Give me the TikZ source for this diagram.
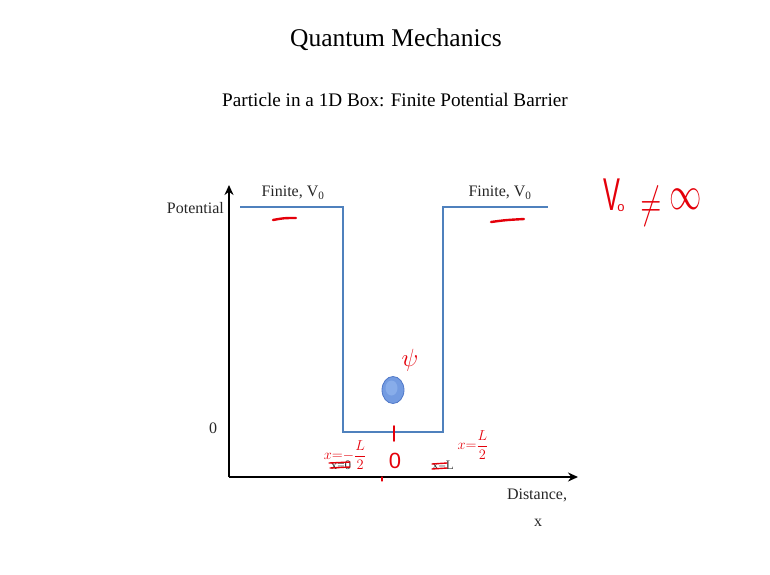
\documentclass[tikz,border=0pt]{standalone}
\usepackage{fontspec}
\setmainfont{Liberation Serif}
\setsansfont{Liberation Sans}
\usetikzlibrary{arrows.meta,calc}
\definecolor{wellblue}{RGB}{79,129,189}
\definecolor{ink}{RGB}{228,0,10}
\definecolor{ballin}{RGB}{150,185,240}
\definecolor{ballfill}{RGB}{115,155,225}
\definecolor{balledge}{RGB}{80,120,200}
\tikzset{
  axisline/.style={line width=2pt, -{Stealth[length=10pt,width=9pt]}},
  well/.style={draw=wellblue, line width=2pt},
  lbl/.style={font=\fontsize{16}{18}\selectfont, text=black!85, inner sep=0pt},
  smalllbl/.style={font=\fontsize{13}{15}\selectfont, text=black!80, inner sep=0pt},
  hand/.style={text=ink, inner sep=0pt},
  handline/.style={draw=ink, line width=2pt, line cap=round},
}
\begin{document}
\begin{tikzpicture}[x=1pt,y=-1pt]
\useasboundingbox (0,0) rectangle (770,574);
% titles
\node[inner sep=0pt, font=\fontsize{25.5}{30}\selectfont] (title) at (396,40) {Quantum Mechanics};
\node[inner sep=0pt, font=\fontsize{19.2}{22}\selectfont] (subtitle) at (395,100) {Particle in a 1D Box: Finite Potential Barrier};
% axes
\coordinate (O) at (229,477);
\coordinate (ytip) at (229,185);
\coordinate (xtip) at (578,477);
\draw[axisline] (O) -- (ytip);
\draw[axisline] (O) -- (xtip);
% well
\coordinate (a) at (240,207);
\coordinate (b) at (343,207);
\coordinate (c) at (343,432);
\coordinate (d) at (443,432);
\coordinate (e) at (443,207);
\coordinate (f) at (548,207);
\draw[well] (a) -- (b) -- (c) -- (d) -- (e) -- (f);
% ball
\coordinate (ball) at (393,390);
\fill[ballfill, draw=balledge, line width=0.8pt] (ball) ellipse (11 and 13.5);
\fill[ballin, opacity=0.6] ($(ball)+(-1.5,-2)$) ellipse (6 and 7.5);
% labels
\node[lbl, anchor=east] (pot) at (224,208) {Potential};
\node[lbl] (zero) at (213,428) {0};
\node[lbl] (finL) at (293,193) {Finite, V\textsubscript{0}};
\node[lbl] (finR) at (500,193) {Finite, V\textsubscript{0}};
\node[smalllbl] (x0) at (341,465) {x=0};
\node[smalllbl] (xL) at (443,465) {x=L};
\node[lbl] (dist) at (537,495) {Distance,};
\node[lbl] (xlab) at (538,523) {x};
% handwritten annotations
\draw[handline, line width=2.4pt] (273,220) .. controls (284,218) .. (296,218);
\draw[handline, line width=2.4pt] (491,222) .. controls (506,220) .. (524,219);
\node[hand, font=\fontsize{46}{48}\selectfont\sffamily] (vv) at (612,195) {\scalebox{0.55}[1]{V}};
\node[hand, font=\fontsize{13}{14}\selectfont\sffamily] (vsub) at (621,208) {o};
\node[hand, font=\fontsize{24.88}{26}\selectfont] (neq) at (651,206) {\scalebox{1.15}[1.8]{$\neq$}};
\node[hand, font=\fontsize{24.88}{26}\selectfont] (inf) at (686,199) {\scalebox{1.3}[1.9]{$\infty$}};
\node[hand, font=\fontsize{30}{32}\selectfont] (psi) at (410,360) {$\psi$};
\draw[handline, line width=1.8pt] (394,426) -- (394,441);
\node[hand, font=\fontsize{22}{24}\selectfont\sffamily] (o) at (395,461) {0};
\node[hand, font=\fontsize{15}{17}\selectfont] (xl) at (345,455) {$\displaystyle x{=}{-}\frac{L}{2}$};
\node[hand, font=\fontsize{15}{17}\selectfont] (xr) at (473,445) {$\displaystyle x{=}\frac{L}{2}$};
\draw[handline, line width=1.4pt] (329,463) -- (350,462);
\draw[handline, line width=1.4pt] (330,468) -- (350,467);
\draw[handline, line width=1.4pt] (432,464) -- (447,463);
\draw[handline, line width=1.4pt] (432,469) -- (447,468);
\draw[handline, line width=1.2pt] (382,477) -- (382,481);
\end{tikzpicture}
\end{document}
